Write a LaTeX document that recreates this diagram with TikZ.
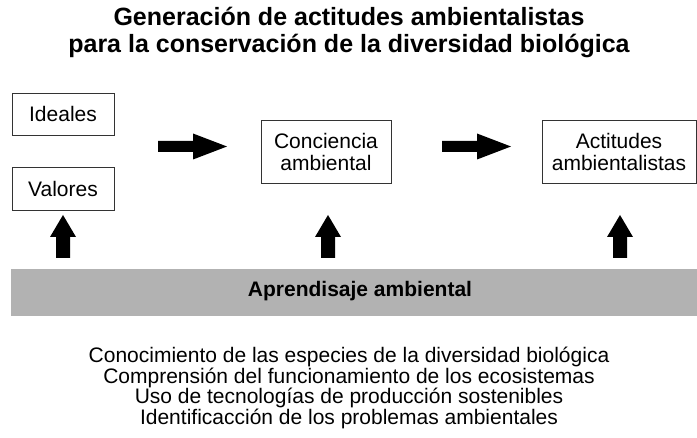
\documentclass[tikz,border=0pt]{standalone}
\usepackage{fontspec}
\setmainfont{Liberation Sans}
\begin{document}
\begin{tikzpicture}[x=1pt,y=-1pt,
  box/.style={draw=black!80,line width=0.6pt,minimum width=#1,align=center,inner sep=0pt,font=\fontsize{21}{22}\selectfont},
  rarrow/.pic={\fill[black] (0,-5.5) -- (35,-5.5) -- (35,-13) -- (69,0) -- (35,13) -- (35,5.5) -- (0,5.5) -- cycle;},
  uarrow/.pic={\fill[black] (-7,0) -- (-7,-21) -- (-13,-21) -- (0,-43) -- (13,-21) -- (7,-21) -- (7,0) -- cycle;}]
\useasboundingbox (0,0) rectangle (697,438);
\node[font=\bfseries\fontsize{25}{27}\selectfont,align=center] (title) at (349,32.5) {Generación de actitudes ambientalistas\\para la conservación de la diversidad biológica};
\node[box=102pt,minimum height=42pt] (ideales) at (63,114) {Ideales};
\node[box=102pt,minimum height=43pt] (valores) at (63,188.5) {Valores};
\node[box=130pt,minimum height=63pt] (conc) at (326,151.5) {Conciencia\\ambiental};
\node[box=154pt,minimum height=63pt] (act) at (619,151.5) {Actitudes\\ambientalistas};
\fill[gray!60] (11,269) rectangle (697,316);
\node[font=\bfseries\fontsize{21}{23}\selectfont] (apr) at (360,291.5) {Aprendisaje ambiental};
\pic at (158,146.5) {rarrow};
\pic at (442,146.5) {rarrow};
\pic at (63,258) {uarrow};
\pic at (328,258) {uarrow};
\pic at (620,258) {uarrow};
\node[font=\fontsize{21}{20.7}\selectfont,align=center] (list) at (349,388) {Conocimiento de las especies de la diversidad biológica\\Comprensión del funcionamiento de los ecosistemas\\Uso de tecnologías de producción sostenibles\\Identificacción de los problemas ambientales};
\end{tikzpicture}
\end{document}
